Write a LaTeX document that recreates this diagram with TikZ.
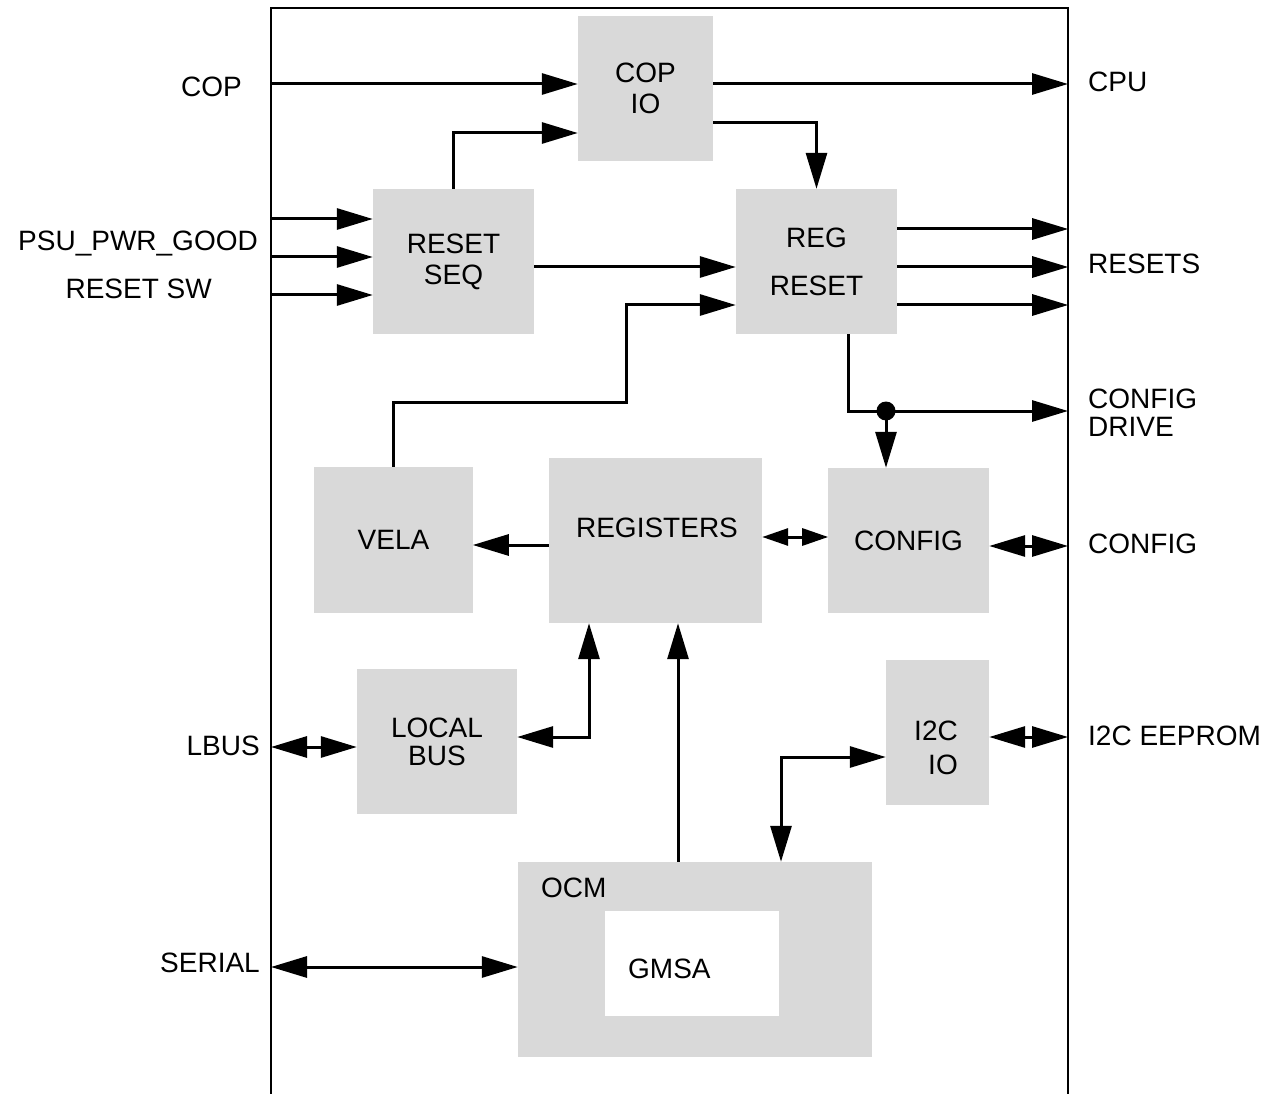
\documentclass[tikz,border=0pt]{standalone}
\usepackage{fontspec}
\setmainfont{Liberation Sans}
\usetikzlibrary{arrows.meta}
\definecolor{blkgray}{RGB}{217,217,217}

\begin{document}
\begin{tikzpicture}[x=1pt, y=-1pt, font=\fontsize{28}{31}\selectfont,
  >={Triangle[length=36pt, width=21pt]},
  blk/.style={fill=blkgray, inner sep=0pt, align=center},
  wire/.style={line width=3pt},
  shorttip/.style={>={Triangle[length=26pt, width=17pt]}},
  pinlbl/.style={inner sep=0pt, align=left}]
  \useasboundingbox (0,0) rectangle (1278,1094);
  % board outline, open at the bottom
  \draw[line width=2.5pt] (271,1094) -- (271,8) -- (1068,8) -- (1068,1094);
  % blocks
  \node[blk, minimum width=135pt, minimum height=145pt] (copio) at (645.5,88.5) {COP\\IO};
  \node[blk, minimum width=161pt, minimum height=145pt] (resetseq) at (453.5,261.5) {RESET\\SEQ};
  \node[blk, minimum width=161pt, minimum height=145pt] (regreset) at (816.5,261.5) {REG\\[17pt]RESET};
  \node[blk, minimum width=159pt, minimum height=146pt] (vela) at (393.5,540) {VELA};
  \node[blk, minimum width=213pt, minimum height=165pt] (registers) at (655.5,540.5) {};
  \node[inner sep=0pt] (registerstxt) at (657,528) {REGISTERS};
  \node[blk, minimum width=161pt, minimum height=145pt] (config) at (908.5,540.5) {CONFIG};
  \node[blk, minimum width=160pt, minimum height=145pt] (localbus) at (437,741.5) {LOCAL\\[-3pt]BUS};
  \node[blk, minimum width=103pt, minimum height=145pt] (i2cio) at (937.5,732.5) {};
  \node[inner sep=0pt, align=right] (i2ciotxt) at (936,748) {I2C\\[3pt]IO};
  \node[blk, minimum width=354pt, minimum height=195pt] (ocm) at (695,959.5) {};
  \node[fill=white, inner sep=0pt, minimum width=174pt, minimum height=105pt] (gmsa) at (692,963.5) {};
  \node[anchor=west, inner sep=0pt] (ocmtxt) at (541,888) {OCM};
  \node[anchor=west, inner sep=0pt] (gmsatxt) at (628,969) {GMSA};
  % signal names outside the board
  \node[pinlbl, anchor=base east] (coplbl) at (242,97) {COP};
  \node[pinlbl, anchor=base east] (psulbl) at (258,251) {PSU\_PWR\_GOOD};
  \node[pinlbl, anchor=base east] (swlbl) at (212,299) {RESET SW};
  \node[pinlbl, anchor=base east] (lbuslbl) at (260,755) {LBUS};
  \node[pinlbl, anchor=base east] (seriallbl) at (260,972) {SERIAL};
  \node[pinlbl, anchor=base west] (cpulbl) at (1088,92) {CPU};
  \node[pinlbl, anchor=base west] (resetslbl) at (1088,274) {RESETS};
  \node[pinlbl, anchor=west] (cfgdrvlbl) at (1088,413) {CONFIG\\[-3pt]DRIVE};
  \node[pinlbl, anchor=base west] (cfglbl) at (1088,553) {CONFIG};
  \node[pinlbl, anchor=base west] (eepromlbl) at (1088,745) {I2C EEPROM};
  % pins on the board edge
  \coordinate (copin) at (271,84);
  \coordinate (in1) at (271,219);
  \coordinate (in2) at (271,257);
  \coordinate (in3) at (271,295);
  \coordinate (lbuspin) at (271,747);
  \coordinate (serialpin) at (271,967);
  \coordinate (cpuout) at (1068,84);
  \coordinate (cfgdrvout) at (1068,411);
  \coordinate (cfgpin) at (1068,546);
  \coordinate (i2cpin) at (1068,737);
  \coordinate (tap) at (886,411);
  % connections
  \draw[wire, ->] (copin) -- (copin -| copio.west);
  \draw[wire, ->] (copio.east |- cpuout) -- (cpuout);
  \foreach \i in {1,2,3}
    \draw[wire, ->] (in\i) -- (in\i -| resetseq.west);
  \draw[wire, ->] (resetseq.north) |- ([yshift=-44.5pt]copio.west);
  \draw[wire, ->] ([yshift=-34.5pt]copio.east) -| (regreset.north);
  \draw[wire, ->] ([yshift=-5.5pt]resetseq.east) -- ([yshift=-5.5pt]regreset.west);
  \foreach \dy in {32.5,-5.5,-43.5}
    \draw[wire, ->] ([yshift=\dy pt]regreset.east) -- ++(171,0);
  \draw[wire, ->] (vela.north) |- (626,402) |- ([yshift=-43.5pt]regreset.west);
  \draw[wire, ->] ([xshift=31.5pt]regreset.south) |- (cfgdrvout);
  \fill (tap) circle[radius=9.5pt];
  \draw[wire, ->] (tap) -- (tap |- config.north);
  \draw[wire, ->] ([yshift=-4.5pt]registers.west) -- ++(-76,0);
  \draw[wire, <->, shorttip] ([yshift=3.5pt]registers.east) -- ++(66,0);
  \draw[wire, <->] (config.east |- cfgpin) -- (cfgpin);
  \draw[wire, <->] (lbuspin) -- (lbuspin -| localbus.west);
  \draw[wire, <->] ([yshift=4.5pt]localbus.east) -| ([xshift=-66.5pt]registers.south);
  \draw[wire, ->] ([xshift=-17pt]ocm.north) -- ([xshift=22.5pt]registers.south);
  \draw[wire, <->] ([xshift=86pt]ocm.north) |- ([yshift=-24.5pt]i2cio.west);
  \draw[wire, <->] (i2cio.east |- i2cpin) -- (i2cpin);
  \draw[wire, <->] (serialpin) -- (serialpin -| ocm.west);
\end{tikzpicture}
\end{document}
